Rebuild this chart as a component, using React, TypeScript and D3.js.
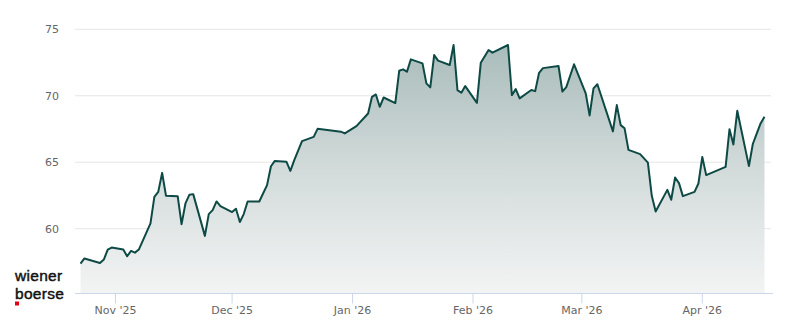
import React from "react";
import * as d3 from "d3";

const dates: string[] = [
  "2025-10-23","2025-10-24","2025-10-28","2025-10-29","2025-10-30","2025-10-31",
  "2025-11-03","2025-11-04","2025-11-05","2025-11-06","2025-11-07",
  "2025-11-10","2025-11-11","2025-11-12","2025-11-13","2025-11-14",
  "2025-11-17","2025-11-18","2025-11-19","2025-11-20","2025-11-21",
  "2025-11-24","2025-11-25","2025-11-26","2025-11-27","2025-11-28",
  "2025-12-01","2025-12-02","2025-12-03","2025-12-04","2025-12-05",
  "2025-12-08","2025-12-10","2025-12-11","2025-12-12",
  "2025-12-15","2025-12-16","2025-12-17","2025-12-19",
  "2025-12-22","2025-12-23","2025-12-29","2025-12-30",
  "2026-01-02","2026-01-05","2026-01-06","2026-01-07","2026-01-08","2026-01-09",
  "2026-01-12","2026-01-13","2026-01-14","2026-01-15","2026-01-16",
  "2026-01-19","2026-01-20","2026-01-21","2026-01-22","2026-01-23",
  "2026-01-26","2026-01-27","2026-01-28","2026-01-29","2026-01-30",
  "2026-02-02","2026-02-03","2026-02-05","2026-02-06",
  "2026-02-10","2026-02-11","2026-02-12","2026-02-13",
  "2026-02-16","2026-02-17","2026-02-18","2026-02-19",
  "2026-02-23","2026-02-24","2026-02-25","2026-02-27",
  "2026-03-02","2026-03-03","2026-03-04","2026-03-05",
  "2026-03-09","2026-03-10","2026-03-11","2026-03-12","2026-03-13",
  "2026-03-16","2026-03-17","2026-03-18","2026-03-19","2026-03-20",
  "2026-03-23","2026-03-24","2026-03-25","2026-03-26","2026-03-27",
  "2026-03-30","2026-03-31","2026-04-01","2026-04-02",
  "2026-04-07","2026-04-08","2026-04-09","2026-04-10",
  "2026-04-13","2026-04-14","2026-04-15","2026-04-16","2026-04-17",
];

const prices: number[] = [
  57.38, 57.76, 57.42, 57.68, 58.43, 58.58,
  58.43, 57.93, 58.33, 58.2, 58.43,
  60.4, 62.4, 62.77, 64.2, 62.47,
  62.45, 60.34, 61.9, 62.55, 62.6,
  59.46, 61.1, 61.4, 62.05, 61.7,
  61.25, 61.5, 60.5, 61.1, 62.05,
  62.05, 63.28, 64.7, 65.1,
  65.03, 64.35, 65.16, 66.59,
  66.91, 67.51, 67.3, 67.17,
  67.72, 68.67, 69.92, 70.1, 69.17, 69.87,
  69.45, 71.88, 71.99, 71.81, 72.74,
  72.44, 70.93, 70.63, 73.06, 72.64,
  72.31, 73.82, 70.43, 70.23, 70.73,
  69.47, 72.49, 73.44, 73.24,
  73.82, 70.05, 70.5, 69.8,
  70.43, 70.35, 71.73, 72.08,
  72.24, 70.32, 70.65, 72.37,
  70.18, 68.52, 70.56, 70.87,
  67.32, 69.3, 67.79, 67.55, 65.93,
  65.61, 65.29, 64.97, 62.47, 61.3,
  62.92, 62.18, 63.85, 63.43, 62.45,
  62.77, 63.4, 65.4, 64.03,
  64.65, 67.49, 66.34, 68.87,
  64.71, 66.37, 67.15, 67.92, 68.42,
];

const xTickDates: string[] = ["2025-11-01", "2025-12-01", "2026-01-01", "2026-02-01", "2026-03-01", "2026-04-01"];
const xTickLabels: string[] = ["Nov '25", "Dec '25", "Jan '26", "Feb '26", "Mar '26", "Apr '26"];
const yTicks: number[] = [60, 65, 70, 75];
const logoLines: string[] = ["wiener", "boerse"];

const W = 800;
const H = 324;
const plotLeft = 75;
const plotRight = 771;
const plotBottom = 293.5;

export default function App() {
  const parse = d3.timeParse("%Y-%m-%d");
  const data = dates.map((d, i) => ({ date: parse(d) as Date, value: prices[i] }));
  const tickDates = xTickDates.map((d) => parse(d) as Date);

  const x = d3
    .scaleTime()
    .domain([tickDates[0], tickDates[tickDates.length - 1]])
    .range([115.5, 702.3]);
  const y = d3.scaleLinear().domain([60, 75]).range([228.7, 29.3]);

  const line = d3
    .line<{ date: Date; value: number }>()
    .x((d) => x(d.date))
    .y((d) => y(d.value));
  const area = d3
    .area<{ date: Date; value: number }>()
    .x((d) => x(d.date))
    .y0(plotBottom)
    .y1((d) => y(d.value));

  const maxV = d3.max(prices) as number;
  const font = "'DejaVu Sans', sans-serif";
  const logoFont = "'Liberation Sans', Arial, sans-serif";

  return (
    <svg width={W} height={H} style={{ position: "absolute", left: 0, top: 0, display: "block" }}>
      <defs>
        <linearGradient id="areaGrad" gradientUnits="userSpaceOnUse" x1="0" x2="0" y1={y(maxV)} y2={plotBottom}>
          <stop offset="0" stopColor="#a9bcbb" />
          <stop offset="0.5" stopColor="#d2dbda" />
          <stop offset="1" stopColor="#f3f4f4" />
        </linearGradient>
      </defs>
      <rect x={0} y={0} width={W} height={H} fill="#ffffff" />
      {yTicks.map((t) => (
        <g key={t}>
          <line x1={plotLeft} x2={plotRight} y1={y(t)} y2={y(t)} stroke="#e6e6e6" strokeWidth={1} />
          <text x={59} y={y(t)} dy="0.36em" textAnchor="end" fontFamily={font} fontSize={11} fill="#666666">
            {t}
          </text>
        </g>
      ))}
      <path d={area(data) || ""} fill="url(#areaGrad)" />
      <path d={line(data) || ""} fill="none" stroke="#0e4a45" strokeWidth={2} strokeLinejoin="round" />
      <line x1={plotLeft} x2={773} y1={plotBottom} y2={plotBottom} stroke="#ccd6eb" strokeWidth={1} />
      {tickDates.map((d, i) => (
        <g key={i}>
          <line x1={x(d)} x2={x(d)} y1={plotBottom} y2={plotBottom + 10} stroke="#ccd6eb" strokeWidth={1} />
          <text x={x(d)} y={314} textAnchor="middle" fontFamily={font} fontSize={11} fill="#666666">
            {xTickLabels[i]}
          </text>
        </g>
      ))}
      <text x={15} y={280.5} fontFamily={logoFont} fontSize={15.5} letterSpacing={0.3}
        fill="#111111" stroke="#111111" strokeWidth={0.45}>
        {logoLines[0]}
      </text>
      <text x={15} y={298.5} fontFamily={logoFont} fontSize={15.5} letterSpacing={0.3}
        fill="#111111" stroke="#111111" strokeWidth={0.45}>
        {logoLines[1]}
      </text>
      <rect x={15} y={301.5} width={4} height={4} fill="#e2001a" />
    </svg>
  );
}
